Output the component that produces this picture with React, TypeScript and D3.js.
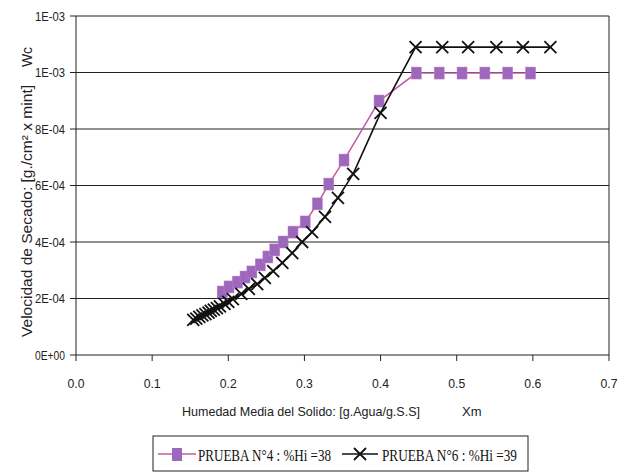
import React from "react";
import * as d3 from "d3";

const xTicks = [0, 0.1, 0.2, 0.3, 0.4, 0.5, 0.6, 0.7];
const yTicks = [0, 2e-4, 4e-4, 6e-4, 8e-4, 1e-3, 1.2e-3];

const s1Name = "PRUEBA N°4 : %Hi =38";
const s1X = [0.192, 0.201, 0.212, 0.222, 0.231, 0.242, 0.252, 0.261, 0.272, 0.285, 0.301, 0.317, 0.332, 0.352, 0.398, 0.447, 0.477, 0.507, 0.537, 0.567, 0.597];
const s1Y = [2.23e-4, 2.41e-4, 2.58e-4, 2.76e-4, 2.94e-4, 3.19e-4, 3.47e-4, 3.72e-4, 4.0e-4, 4.35e-4, 4.71e-4, 5.35e-4, 6.05e-4, 6.9e-4, 8.99e-4, 9.98e-4, 9.98e-4, 9.98e-4, 9.98e-4, 9.98e-4, 9.98e-4];

const s2Name = "PRUEBA N°6 : %Hi =39";
const s2X = [0.154, 0.158, 0.162, 0.166, 0.170, 0.174, 0.177, 0.181, 0.185, 0.189, 0.195, 0.2, 0.206, 0.217, 0.227, 0.238, 0.248, 0.259, 0.271, 0.284, 0.297, 0.31, 0.327, 0.344, 0.364, 0.4, 0.446, 0.481, 0.515, 0.552, 0.587, 0.623];
const s2Y = [1.24e-4, 1.29e-4, 1.35e-4, 1.4e-4, 1.45e-4, 1.5e-4, 1.56e-4, 1.61e-4, 1.66e-4, 1.72e-4, 1.81e-4, 1.88e-4, 1.98e-4, 2.16e-4, 2.34e-4, 2.51e-4, 2.73e-4, 2.97e-4, 3.26e-4, 3.61e-4, 4.0e-4, 4.35e-4, 4.89e-4, 5.56e-4, 6.41e-4, 8.57e-4, 1.09e-3, 1.09e-3, 1.09e-3, 1.09e-3, 1.09e-3, 1.09e-3];

const xTitle = "Humedad Media del Solido: [g.Agua/g.S.S]";
const xTitle2 = "Xm";
const yTitle = "Velocidad de Secado: [g./cm² x mint]";
const yTitle2 = "Wc";

const fmtY = (v: number) => {
  const s = v.toExponential(0); // e.g. 2e-4
  const [m, e] = s.split("e");
  const sign = e[0] === "-" ? "-" : "+";
  const digits = e.replace(/[+-]/, "").padStart(2, "0");
  return `${m}E${sign}${digits}`;
};

const SANS = "'Liberation Sans', Arial, sans-serif";
const SERIF = "'Liberation Serif', 'Times New Roman', serif";

export default function App() {
  const x = d3.scaleLinear().domain([0, 0.7]).range([76, 609]);
  const y = d3.scaleLinear().domain([0, 1.2e-3]).range([355, 16]);
  const line = d3.line<[number, number]>().x(d => x(d[0])).y(d => y(d[1]));
  const d1: [number, number][] = s1X.map((v, i) => [v, s1Y[i]]);
  const d2: [number, number][] = s2X.map((v, i) => [v, s2Y[i]]);
  const sq = 10;
  const xs = 6;
  const sqColor = "#9c68bc";
  const lineColor = "#c45aa6";

  return (
    <svg width={627} height={473} style={{ position: "absolute", left: 0, top: 0, background: "#fff" }}>
      {/* gridlines */}
      {yTicks.map(t => (
        <line key={"g" + t} x1={x(0)} x2={x(0.7)} y1={y(t)} y2={y(t)} stroke="#222" strokeWidth={1} />
      ))}
      {/* axes and frame */}
      <line x1={x(0)} x2={x(0)} y1={y(0)} y2={y(1.2e-3)} stroke="#222" strokeWidth={1} />
      <line x1={x(0.7)} x2={x(0.7)} y1={y(0)} y2={y(1.2e-3)} stroke="#222" strokeWidth={1} />
      {yTicks.map(t => (
        <g key={"yt" + t}>
          <line x1={x(0) - 6} x2={x(0)} y1={y(t)} y2={y(t)} stroke="#222" />
          <text x={65} y={y(t)} dy="0.35em" textAnchor="end" fontFamily={SANS} fontSize={13} fill="#222" textLength={30} lengthAdjust="spacingAndGlyphs">{fmtY(t)}</text>
        </g>
      ))}
      {xTicks.map(t => (
        <g key={"xt" + t}>
          <line x1={x(t)} x2={x(t)} y1={y(0)} y2={y(0) + 6} stroke="#222" />
          <text x={x(t)} y={388} textAnchor="middle" fontFamily={SANS} fontSize={13} fill="#222" textLength={17} lengthAdjust="spacingAndGlyphs">{t.toFixed(1)}</text>
        </g>
      ))}
      {/* titles */}
      <text x={182} y={416} fontFamily={SANS} fontSize={13} fill="#222" textLength={238} lengthAdjust="spacingAndGlyphs">{xTitle}</text>
      <text x={462} y={416} fontFamily={SANS} fontSize={13} fill="#222">{xTitle2}</text>
      <text transform={`translate(32,${211}) rotate(-90)`} textAnchor="middle" fontFamily={SANS} fontSize={14} fill="#222" textLength={252} lengthAdjust="spacingAndGlyphs">{yTitle}</text>
      <text transform={`translate(32,${57}) rotate(-90)`} textAnchor="middle" fontFamily={SANS} fontSize={14} fill="#222">{yTitle2}</text>

      {/* series 1 */}
      <path d={line(d1) || ""} fill="none" stroke={lineColor} strokeWidth={1.5} />
      {d1.map((p, i) => (
        <rect key={"s" + i} x={x(p[0]) - sq / 2} y={y(p[1]) - sq / 2 - 1} width={sq} height={sq + 2} fill={sqColor} stroke="#c77cc8" strokeWidth={0.5} />
      ))}
      {/* series 2 */}
      <path d={line(d2) || ""} fill="none" stroke="#111" strokeWidth={1.6} />
      {d2.map((p, i) => (
        <g key={"x" + i} stroke="#111" strokeWidth={1.8}>
          <line x1={x(p[0]) - xs} x2={x(p[0]) + xs} y1={y(p[1]) - xs} y2={y(p[1]) + xs} />
          <line x1={x(p[0]) - xs} x2={x(p[0]) + xs} y1={y(p[1]) + xs} y2={y(p[1]) - xs} />
        </g>
      ))}

      {/* legend */}
      <rect x={153} y={436} width={375} height={35} fill="none" stroke="#222" strokeWidth={1} />
      <line x1={158} x2={196} y1={454} y2={454} stroke={lineColor} strokeWidth={1.5} />
      <rect x={172} y={448} width={10} height={13} fill={sqColor} />
      <text x={198} y={461} fontFamily={SERIF} fontSize={17} fill="#111" textLength={133} lengthAdjust="spacingAndGlyphs">{s1Name}</text>
      <line x1={342} x2={378} y1={454} y2={454} stroke="#111" strokeWidth={1.6} />
      <g stroke="#111" strokeWidth={1.8}>
        <line x1={354} x2={366} y1={448} y2={460} />
        <line x1={354} x2={366} y1={460} y2={448} />
      </g>
      <text x={382} y={461} fontFamily={SERIF} fontSize={17} fill="#111" textLength={135} lengthAdjust="spacingAndGlyphs">{s2Name}</text>
    </svg>
  );
}
